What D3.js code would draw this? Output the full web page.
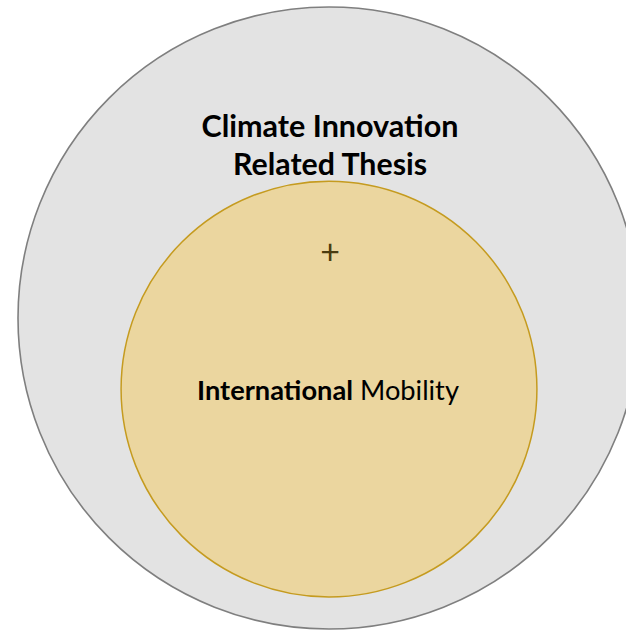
<!DOCTYPE html>
<meta charset="utf-8">
<head>
    <script type="text/javascript" src="https://d3js.org/d3.v7.min.js"></script>
    <style>
        body { margin: 0; background: #fff; }
        svg { display: block; }
        text { font-family: Lato, "Open Sans", sans-serif; }
    </style>
</head>
<body>
<div id="venn"></div>
</body>
<script>
    // sets, outer one first (relative size as area)
    var setNames = ["Climate Innovation Related Thesis", "International Mobility"];
    var setSizes = [100, 44.7];
    var outerLabel = ["Climate Innovation", "Related Thesis"];
    var innerLabel = [{t: "International", bold: true}, {t: " Mobility", bold: false}];
    var marker = "+";

    var width = 626, height = 632;

    var svg = d3.select("#venn").append("svg")
        .attr("width", width)
        .attr("height", height);

    // radius from area
    var r = d3.scaleSqrt().domain([0, 100]).range([0, 311]);

    var cx = 329;
    var outerCy = 318;
    // inner circle sits near the bottom of the outer one
    var innerCy = outerCy + r(setSizes[0]) - r(setSizes[1]) - 32;

    var fills = ["#e3e3e3", "#ebd69f"];
    var strokes = ["#7f7f7f", "#c59b1f"];
    var centers = [outerCy, innerCy];

    svg.selectAll("circle.set")
        .data(setNames)
        .join("circle")
        .attr("class", "set")
        .attr("cx", cx)
        .attr("cy", (d, i) => centers[i])
        .attr("r", (d, i) => r(setSizes[i]))
        .attr("fill", (d, i) => fills[i])
        .attr("stroke", (d, i) => strokes[i])
        .attr("stroke-width", (d, i) => i === 0 ? 1.6 : 1.5);

    // scale font so the label has the given width
    function fit(sel, w) {
        var cur = parseFloat(sel.attr("font-size"));
        var len = sel.node().getComputedTextLength();
        sel.attr("font-size", (cur * w / len).toFixed(2));
    }

    var outerText = svg.selectAll("text.outer")
        .data(outerLabel)
        .join("text")
        .attr("class", "outer")
        .attr("x", cx + 1)
        .attr("y", (d, i) => 137 + i * 38)
        .attr("text-anchor", "middle")
        .attr("font-weight", "bold")
        .attr("font-size", 28)
        .attr("fill", "#000")
        .text(d => d);
    fit(d3.select(outerText.nodes()[0]), 257);
    fit(d3.select(outerText.nodes()[1]), 194);

    svg.append("text")
        .attr("x", cx + 1)
        .attr("y", 264)
        .attr("text-anchor", "middle")
        .attr("font-size", 34)
        .attr("fill", "#4a3c10")
        .text(marker);

    var mob = svg.append("text")
        .attr("x", cx - 1)
        .attr("y", 400)
        .attr("text-anchor", "middle")
        .attr("font-size", 24)
        .attr("fill", "#000");
    mob.selectAll("tspan")
        .data(innerLabel)
        .join("tspan")
        .attr("font-weight", d => d.bold ? "bold" : "normal")
        .style("white-space", "pre")
        .text(d => d.t);
    mob.attr("xml:space", "preserve");
    fit(mob, 262);
</script>
</html>
